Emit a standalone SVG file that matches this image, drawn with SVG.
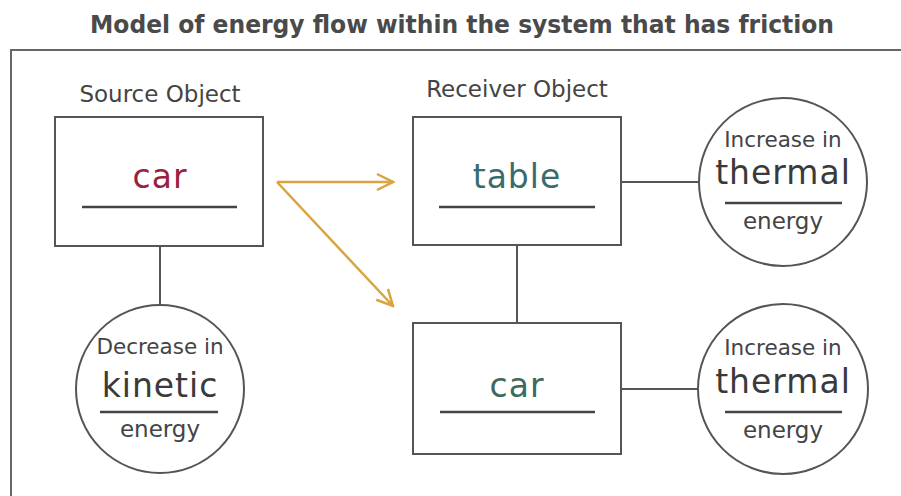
<svg xmlns="http://www.w3.org/2000/svg" width="901" height="496" viewBox="0 0 901 496">
<style>
.box{fill:#fff;stroke:#555;stroke-width:2}
.circ{fill:#fff;stroke:#555;stroke-width:2}
.line{stroke:#555;stroke-width:2;fill:none}
.ul{stroke:#444;stroke-width:2.5}
.lbl{font-family:"DejaVu Sans",Verdana,sans-serif;font-size:23px;fill:#444;text-anchor:middle}
.sm{font-size:21.5px}
.hand{font-family:"DejaVu Sans",sans-serif;font-size:33px;text-anchor:middle;letter-spacing:1px}
.arrow{stroke:#d8a540;stroke-width:2.5;fill:none}
</style>
<defs>
<marker id="chev" markerWidth="20" markerHeight="20" refX="18" refY="10" orient="auto" markerUnits="userSpaceOnUse">
<path d="M2,2 L18,10 L2,18" fill="none" stroke="#d8a540" stroke-width="2.5"/>
</marker>
</defs>
<rect width="901" height="496" fill="#fff"/>
<text x="462" y="33" font-family="'DejaVu Sans Condensed','DejaVu Sans',sans-serif" font-weight="bold" font-size="25" fill="#4a4a4a" text-anchor="middle" textLength="744" lengthAdjust="spacingAndGlyphs">Model of energy flow within the system that has friction</text>
<path d="M11,496 V50 H901" fill="none" stroke="#666" stroke-width="2"/>

<g id="connectors">
<line class="line" x1="160" y1="246" x2="160" y2="305"/>
<line class="line" x1="517" y1="245" x2="517" y2="323"/>
<line class="line" x1="621" y1="182" x2="700" y2="182"/>
<line class="line" x1="621" y1="389" x2="699" y2="389"/>
<line class="arrow" x1="277" y1="182" x2="393" y2="182" marker-end="url(#chev)"/>
<line class="arrow" x1="277" y1="182" x2="393" y2="306" marker-end="url(#chev)"/>
</g>

<g id="source">
<text class="lbl" x="160" y="102">Source Object</text>
<rect class="box" x="55" y="117" width="208" height="129"/>
<text class="hand" x="160" y="188" fill="#9b1f40">car</text>
<line class="ul" x1="82" y1="207" x2="237" y2="207"/>
</g>

<g id="receiver-table">
<text class="lbl" x="517" y="97">Receiver Object</text>
<rect class="box" x="413" y="117" width="208" height="128"/>
<text class="hand" x="517" y="188" fill="#3c6b6e">table</text>
<line class="ul" x1="439" y1="207" x2="595" y2="207"/>
</g>

<g id="receiver-car">
<rect class="box" x="413" y="323" width="208" height="131"/>
<text class="hand" x="517" y="397" fill="#3d6a5c">car</text>
<line class="ul" x1="440" y1="412" x2="595" y2="412"/>
</g>

<g id="kinetic">
<circle class="circ" cx="160" cy="389" r="84"/>
<text class="lbl sm" x="160" y="354">Decrease in</text>
<text class="hand" x="160" y="397" fill="#3a3a3a">kinetic</text>
<line class="ul" x1="100" y1="412" x2="218" y2="412"/>
<text class="lbl" x="160" y="437">energy</text>
</g>

<g id="thermal-top">
<circle class="circ" cx="783" cy="182" r="84"/>
<text class="lbl sm" x="783" y="147">Increase in</text>
<text class="hand" x="783" y="184" fill="#3a3a3a">thermal</text>
<line class="ul" x1="725" y1="203" x2="842" y2="203"/>
<text class="lbl" x="783" y="229">energy</text>
</g>

<g id="thermal-bottom">
<circle class="circ" cx="783" cy="389" r="85"/>
<text class="lbl sm" x="783" y="355">Increase in</text>
<text class="hand" x="783" y="393" fill="#3a3a3a">thermal</text>
<line class="ul" x1="725" y1="412" x2="842" y2="412"/>
<text class="lbl" x="783" y="438">energy</text>
</g>
</svg>
